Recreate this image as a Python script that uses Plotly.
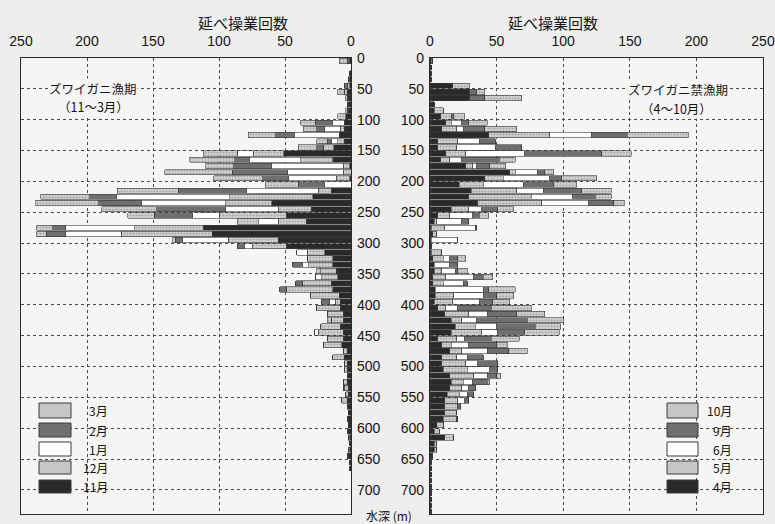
import plotly.graph_objects as go

W, H = 775, 524

# 10 m depth classes (bin centres, m)
depth = [5, 15, 25, 35, 45, 55, 65, 75, 85, 95,
         105, 115, 125, 135, 145, 155, 165, 175, 185, 195,
         205, 215, 225, 235, 245, 255, 265, 275, 285, 295,
         305, 315, 325, 335, 345, 355, 365, 375, 385, 395,
         405, 415, 425, 435, 445, 455, 465, 475, 485, 495,
         505, 515, 525, 535, 545, 555, 565, 575, 585, 595,
         605, 615, 625, 635, 645, 655, 665, 675, 685, 695,
         705, 715, 725, 735]

# ---- snow crab fishing season (Nov-Mar): hauls per depth class ----
nov = [1, 0, 1, 1, 1, 3, 2, 2, 2, 4,
       5, 5, 9, 5, 13, 51, 14, 1, 0, 1,
       0, 15, 29, 60, 30, 49, 34, 112, 105, 55,
       49, 20, 14, 14, 11, 10, 15, 14, 9, 8,
       8, 6, 6, 8, 6, 6, 7, 3, 5, 3,
       3, 3, 3, 2, 2, 3, 2, 2, 2, 2,
       2, 1, 1, 1, 2, 1, 1, 0, 0, 0,
       0, 0, 0, 0]
dec = [0, 0, 0, 0, 2, 2, 0, 1, 0, 0,
       0, 3, 0, 5, 8, 23, 24, 5, 6, 10,
       0, 10, 63, 35, 25, 51, 21, 52, 69, 38,
       26, 13, 19, 18, 12, 12, 22, 35, 22, 4,
       18, 12, 9, 15, 19, 12, 14, 3, 9, 2,
       2, 0, 3, 3, 2, 4, 1, 0, 1, 0,
       1, 1, 0, 1, 1, 0, 0, 0, 0, 0,
       0, 0, 0, 0]
jan = [0, 0, 0, 0, 0, 0, 0, 0, 1, 0,
       9, 12, 34, 5, 0, 12, 39, 54, 42, 36,
       20, 54, 86, 64, 40, 20, 15, 52, 42, 35,
       6, 8, 0, 5, 0, 5, 0, 0, 0, 4,
       0, 0, 0, 0, 3, 0, 0, 0, 0, 0,
       0, 0, 0, 1, 0, 0, 0, 0, 0, 0,
       0, 0, 0, 0, 0, 0, 0, 0, 0, 0,
       0, 0, 0, 0]
feb = [2, 0, 0, 1, 2, 0, 1, 0, 0, 0,
       13, 6, 14, 3, 5, 0, 11, 29, 42, 20,
       20, 52, 20, 32, 52, 29, 0, 10, 15, 5,
       5, 0, 0, 7, 0, 0, 5, 5, 0, 6,
       0, 0, 0, 0, 0, 0, 0, 0, 0, 0,
       0, 0, 0, 0, 0, 0, 0, 0, 0, 0,
       0, 0, 0, 0, 0, 0, 0, 0, 0, 0,
       0, 0, 0, 0]
mar = [6, 0, 0, 0, 0, 5, 1, 0, 1, 6,
       11, 10, 21, 8, 14, 26, 34, 21, 51, 37,
       25, 46, 37, 48, 42, 20, 16, 12, 7, 2,
       0, 0, 0, 0, 3, 0, 0, 0, 0, 0,
       0, 0, 3, 0, 0, 0, 0, 0, 0, 0,
       0, 0, 0, 0, 0, 0, 0, 0, 0, 0,
       0, 0, 0, 0, 0, 0, 0, 0, 0, 0,
       0, 0, 0, 0]

# ---- closed season (Apr-Oct): hauls per depth class ----
apr = [1, 1, 1, 1, 17, 30, 30, 3, 3, 8,
       12, 9, 44, 6, 6, 12, 8, 27, 60, 41,
       22, 31, 29, 36, 16, 6, 3, 1, 2, 1,
       1, 1, 2, 3, 3, 2, 2, 4, 4, 3,
       6, 11, 16, 19, 16, 6, 9, 15, 9, 9,
       10, 15, 16, 15, 13, 11, 11, 11, 10, 5,
       3, 11, 3, 3, 2, 1, 1, 1, 1, 1,
       1, 1, 1, 1]
may = [1, 0, 0, 0, 0, 0, 0, 0, 7, 8,
       4, 11, 46, 15, 14, 15, 7, 5, 4, 14,
       18, 34, 47, 48, 13, 9, 2, 10, 3, 0,
       0, 8, 8, 0, 6, 10, 8, 0, 14, 14,
       6, 18, 8, 15, 23, 14, 7, 9, 11, 18,
       18, 18, 9, 9, 9, 10, 10, 9, 10, 5,
       4, 7, 2, 2, 0, 0, 0, 0, 0, 0,
       0, 0, 0, 0]
jun = [0, 0, 0, 0, 0, 0, 0, 0, 0, 0,
       8, 5, 31, 16, 29, 44, 9, 3, 17, 35,
       30, 20, 31, 35, 10, 17, 19, 23, 0, 20,
       0, 0, 5, 12, 10, 21, 15, 36, 22, 20,
       9, 14, 11, 16, 12, 6, 13, 19, 8, 9,
       17, 10, 7, 5, 6, 5, 0, 0, 0, 0,
       0, 0, 0, 0, 0, 0, 0, 0, 0, 0,
       0, 0, 0, 0]
sep = [0, 0, 0, 0, 0, 5, 11, 0, 0, 2,
       5, 16, 27, 12, 20, 58, 28, 10, 5, 9,
       23, 29, 17, 19, 12, 5, 5, 1, 0, 0,
       0, 0, 6, 6, 2, 7, 3, 4, 10, 10,
       25, 22, 38, 29, 20, 20, 21, 16, 12, 15,
       6, 7, 11, 5, 5, 3, 2, 0, 1, 0,
       0, 0, 0, 0, 0, 0, 0, 0, 0, 0,
       0, 0, 0, 0]
oct_ = [0, 0, 0, 0, 13, 6, 28, 0, 0, 8,
        14, 24, 46, 0, 0, 22, 12, 12, 7, 26,
        17, 22, 12, 8, 12, 7, 0, 0, 0, 0,
        0, 0, 6, 0, 7, 7, 0, 20, 13, 13,
        30, 21, 27, 19, 26, 21, 8, 14, 0, 0,
        0, 3, 2, 0, 0, 0, 0, 0, 0, 0,
        0, 0, 0, 0, 0, 0, 0, 0, 0, 0,
        0, 0, 0, 0]

xticks = [0, 50, 100, 150, 200, 250]
yticks = [0, 50, 100, 150, 200, 250, 300, 350, 400, 450, 500, 550, 600, 650, 700]

DARK = "#2a2a2a"
MID = "#6f6f6f"
WHITE = "#ffffff"
DOT_BG = "#d2d2d2"
EDGE = "#3a3a3a"
PLOT_BG = "#f5f5f4"
PAPER_BG = "#eeeeec"
TXT = "#141414"
NUM_FONT = "Liberation Sans, Arial, sans-serif"
JP_FONT = "Noto Sans CJK JP, sans-serif"


def style(kind):
    if kind == "dark":
        return dict(color=DARK, line=dict(color=EDGE, width=0.6))
    if kind == "mid":
        return dict(color=MID, line=dict(color=EDGE, width=0.6))
    if kind == "white":
        return dict(color=WHITE, line=dict(color=EDGE, width=0.6))
    return dict(color=DOT_BG, line=dict(color=EDGE, width=0.6),
                pattern=dict(shape=".", fillmode="overlay", fgcolor="#767676",
                             size=3, solidity=0.35))


# stacking order: nearest the depth axis first
left_series = [("11月", nov, "dark"), ("12月", dec, "dot"), ("1月", jan, "white"),
               ("2月", feb, "mid"), ("3月", mar, "dot")]
right_series = [("4月", apr, "dark"), ("5月", may, "dot"), ("6月", jun, "white"),
                ("9月", sep, "mid"), ("10月", oct_, "dot")]

fig = go.Figure()
for name, vals, kind in left_series:
    fig.add_trace(go.Bar(x=vals, y=depth, orientation="h", name=name,
                         marker=style(kind), width=8.6,
                         xaxis="x", yaxis="y", showlegend=False))
for name, vals, kind in right_series:
    fig.add_trace(go.Bar(x=vals, y=depth, orientation="h", name=name,
                         marker=style(kind), width=8.6,
                         xaxis="x2", yaxis="y2", showlegend=False))


def px(x):
    return x / W


def py(y):
    return 1 - y / H


top, bottom = 58, 514
ydom = [py(bottom), py(top)]

grid = dict(showgrid=True, gridcolor="#4a4a4a", gridwidth=1, griddash="dot",
            showline=True, linecolor="#2a2a2a", linewidth=1.4, mirror=True,
            ticks="", zeroline=False, automargin=False,
            tickfont=dict(family=NUM_FONT, size=14, color=TXT))

fig.update_layout(
    width=W, height=H, barmode="stack",
    margin=dict(l=0, r=0, t=0, b=0),
    paper_bgcolor=PAPER_BG, plot_bgcolor=PLOT_BG,
    xaxis=dict(domain=[px(21), px(351)], range=[250, 0], side="top",
               tickvals=xticks, anchor="y", ticklabelstandoff=5, **grid),
    yaxis=dict(domain=ydom, range=[739, 0], side="right", tickvals=yticks,
               anchor="x", ticklabelstandoff=2, **grid),
    xaxis2=dict(domain=[px(430), px(763)], range=[0, 250], side="top",
                tickvals=xticks, anchor="y2", ticklabelstandoff=5, **grid),
    yaxis2=dict(domain=ydom, range=[739, 0], side="left", tickvals=yticks,
                anchor="x2", ticklabelstandoff=2, **grid),
)

ann = []
for cx in (196, 600):
    ann.append(dict(x=px(cx), y=py(23), xref="paper", yref="paper",
                    text="延べ操業回数", showarrow=False, yanchor="middle",
                    font=dict(family=JP_FONT, size=15, color=TXT)))
ann.append(dict(x=px(389), y=py(515), xref="paper", yref="paper",
                text="水深 (m)", showarrow=False, yanchor="middle",
                font=dict(family=JP_FONT, size=12, color=TXT)))

# season labels inside each panel, one line per annotation
for cx, cy, text in [(93, 88, "ズワイガニ漁期"), (93, 106, "（11～3月）"),
                     (678, 89, "ズワイガニ禁漁期"), (676, 108, "（4～10月）")]:
    ann.append(dict(x=px(cx), y=py(cy), xref="paper", yref="paper", text=text,
                    showarrow=False, bgcolor=PLOT_BG, borderpad=0,
                    xanchor="center", yanchor="middle",
                    font=dict(family=JP_FONT, size=12.5, color=TXT)))

# legend swatches drawn as boxes inside each panel
fills = {"dark": DARK, "mid": MID, "white": WHITE, "dot": "#c6c6c6"}
rows = [(403, 418), (423, 437), (442, 456), (461, 474), (480, 493)]
shapes = []
for series, (x0, x1), lx in [(left_series, (39, 71), 110), (right_series, (667, 698), 734)]:
    for (name, _, kind), (y0, y1) in zip(reversed(series), rows):
        shapes.append(dict(type="rect", xref="paper", yref="paper",
                           x0=px(x0), x1=px(x1), y0=py(y1), y1=py(y0),
                           fillcolor=fills[kind],
                           line=dict(color=EDGE, width=1)))
        ann.append(dict(x=px(lx), y=py((y0 + y1) / 2), xref="paper", yref="paper",
                        text=name, showarrow=False, xanchor="right", yanchor="middle",
                        font=dict(family=JP_FONT, size=12, color=TXT)))

fig.update_layout(annotations=ann, shapes=shapes)
fig.write_html("out.html")
